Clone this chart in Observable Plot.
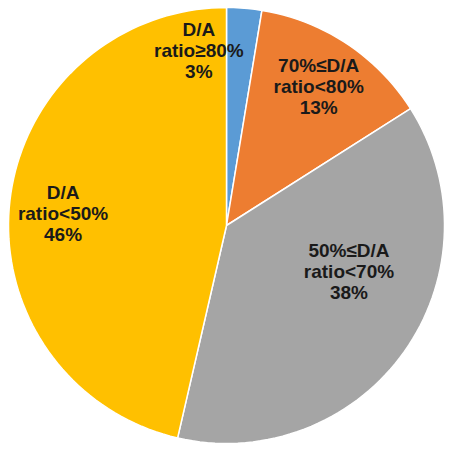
<!DOCTYPE html>
<html>
<head>
<meta charset="utf-8">
<script src="https://cdn.jsdelivr.net/npm/d3@7"></script>
<script src="https://cdn.jsdelivr.net/npm/@observablehq/plot@0.6"></script>
<style>
  body { margin: 0; background: #fff; }
  #pie-chart svg { display: block; }
</style>
</head>
<body>
<div id="pie-chart"></div>
<script>
/*
 * Pie chart: share of companies by debt-to-asset (D/A) ratio band.
 * Slices start at 12 o'clock and run clockwise, like the Excel original.
 * Plot has no arc mark, so each slice is a closed polygon in [-1, 1] data
 * space drawn with Plot.line (fill on), through Plot's own x/y scales.
 */

const categories = ["D/A\nratio≥80%", "70%≤D/A\nratio<80%", "50%≤D/A\nratio<70%", "D/A\nratio<50%"];
// unrounded shares; labels show them rounded
const shares = [2.6, 13.4, 37.6, 46.4];
const colors = ["#5b9bd5", "#ed7d31", "#a5a5a5", "#ffc000"];

// pixel nudges for the labels, Excel doesn't sit them on the bisector
const LABEL_NUDGE = [[-41, -12], [2, -3], [-11, -49], [-1, 6]];
const LABEL_RADIUS = 0.75;
const ARC_STEPS = 180;

const total = d3.sum(shares);
const slices = [];
const outline = [];
let start = 0;
shares.forEach((v, i) => {
  const a0 = (start / total) * 2 * Math.PI;
  const a1 = ((start + v) / total) * 2 * Math.PI;
  const mid = (a0 + a1) / 2;
  slices.push({
    name: categories[i],
    label: `${categories[i]}\n${Math.round((100 * v) / total)}%`,
    x: LABEL_RADIUS * Math.sin(mid),
    y: LABEL_RADIUS * Math.cos(mid),
    i,
  });
  // closed polygon: centre -> arc -> centre
  const n = Math.max(2, Math.ceil((ARC_STEPS * v) / total));
  outline.push({ name: categories[i], x: 0, y: 0 });
  for (let k = 0; k <= n; k++) {
    const a = a0 + ((a1 - a0) * k) / n;
    outline.push({ name: categories[i], x: Math.sin(a), y: Math.cos(a) });
  }
  outline.push({ name: categories[i], x: 0, y: 0 });
  start += v;
});

const plot = Plot.plot({
  width: 449,
  height: 450,
  marginLeft: 8,
  marginRight: 5,
  marginTop: 7,
  marginBottom: 7,
  x: { domain: [-1, 1], axis: null },
  y: { domain: [-1, 1], axis: null },
  color: { domain: categories, range: colors },
  style: { fontFamily: "'Liberation Sans', Arial, sans-serif", background: "#fff" },
  marks: [
    Plot.line(outline, {
      x: "x", y: "y", z: "name",
      fill: "name", stroke: "white", strokeWidth: 1.5, strokeLinejoin: "round",
    }),
    ...slices.map((s) =>
      Plot.text([s], {
        x: "x", y: "y", text: "label",
        dx: LABEL_NUDGE[s.i][0], dy: LABEL_NUDGE[s.i][1],
        fontSize: 19, fontWeight: "bold", lineHeight: 1.1,
        fill: "#1a1a1a", textAnchor: "middle",
      })
    ),
  ],
});

document.getElementById("pie-chart").appendChild(plot);
</script>
</body>
</html>
